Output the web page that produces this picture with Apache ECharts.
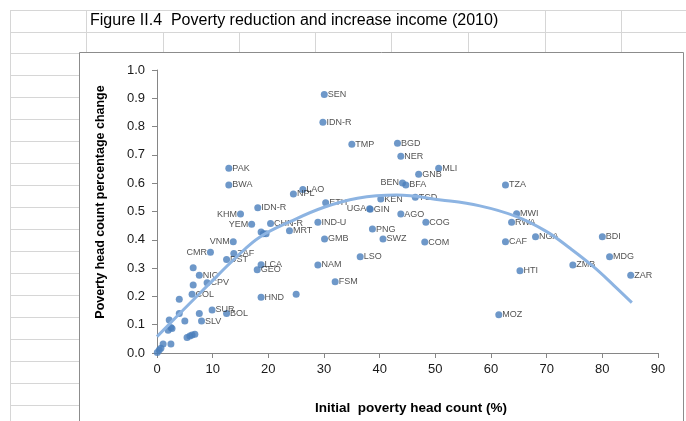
<!DOCTYPE html>
<html><head><meta charset="utf-8">
<script src="https://cdn.jsdelivr.net/npm/echarts/dist/echarts.min.js"></script>
<style>html,body{margin:0;padding:0;background:#fff}#c{width:686px;height:421px}</style>
</head><body><div id="c"></div>
<script>
// ---- data ----
const labNames = ['SEN','IDN-R','TMP','BGD','NER','MLI','GNB','PAK','BWA','TZA',
  'BEN','BFA','LAO','NPL','TCD','KEN','ETH','IDN-R','UGA','GIN',
  'AGO','MWI','KHM','RWA','IND-U','COG','CHN-R','YEM','PNG','MRT',
  'NGA','BDI','GMB','SWZ','CAF','COM','VNM','CMR','ZAF','LSO',
  'MDG','DST','LCA','NAM','ZMB','GEO','HTI','NIC','ZAR','FSM',
  'CPV','COL','HND','SUR','BOL','MOZ','SLV'];
const labX = [30.05,29.8,35.0,43.2,43.8,50.6,47.0,12.9,12.9,62.6,
  44.1,44.7,26.2,24.5,46.4,40.2,30.3,18.1,38.2,38.3,
  43.8,64.6,15.0,63.7,28.9,48.3,20.4,17.0,38.7,23.8,
  68.0,80.0,30.1,40.6,62.6,48.1,13.7,9.6,13.8,36.5,
  81.3,12.5,18.7,28.9,74.7,18.0,65.2,7.6,85.1,32.0,
  9.0,6.3,18.7,9.9,12.5,61.4,8.0];
const labY = [0.913,0.815,0.738,0.741,0.695,0.653,0.632,0.653,0.594,0.594,
  0.601,0.594,0.578,0.562,0.550,0.544,0.531,0.513,0.510,0.508,
  0.491,0.492,0.491,0.462,0.462,0.462,0.458,0.455,0.438,0.432,
  0.411,0.411,0.403,0.403,0.393,0.392,0.393,0.356,0.352,0.340,
  0.340,0.330,0.312,0.311,0.311,0.294,0.291,0.275,0.275,0.252,
  0.248,0.208,0.197,0.152,0.140,0.135,0.113];
// unlabeled points
const unX = [18.7,19.1,19.6,25.0,6.5,6.5,4.0,4.0,7.6,5.0,2.2,2.0,2.5,2.7,5.4,5.9,6.3,6.8,1.1,2.5,0.05,0.4,0.7];
const unY = [0.428,0.421,0.421,0.208,0.301,0.240,0.190,0.140,0.140,0.113,0.117,0.080,0.090,0.087,0.055,0.060,0.064,0.066,0.032,0.032,0.002,0.011,0.017];
// trendline
const trendX = [0,3.5,7.7,10.7,14.3,18.5,24,30,36,43,51,58,64.6,70,74.2,78.4,82,85.3];
const trendY = [0.058,0.128,0.211,0.27,0.34,0.41,0.465,0.515,0.547,0.558,0.541,0.52,0.482,0.429,0.37,0.305,0.24,0.178];
const xTicks = {min:0, max:90, step:10};
const yTicks = {min:0, max:1, step:0.1};
const titleText = 'Figure II.4  Poverty reduction and increase income (2010)';
const xTitle = 'Initial  poverty head count (%)';
const yTitle = 'Poverty head count percentage change';

// ---- label placement (style only) : [side, dx, dy] ----
const labelPlace = [['r',0,0],['r',1,2],['r',3,1],['r',0,0],['r',3,2],['r',-1,-2],['r',0.5,-2],['r',3.5,-1],['r',3,2],['r',2.5,2],
  ['l',8,-5],['r',3,2],['r',0,-1],['r',0,6],['r',3,1],['r',-2.5,-1],['r',1,1],['r',-3.5,-3],['l',12,-4],['r',9.6,0],
  ['r',1,1],['r',-1,0],['l',3,1],['r',0,0],['r',-0.5,0],['r',0,5],['r',0,0],['l',13.5,-2.5],['r',0,-2],['r',-1,1],
  ['r',9,1.5],['r',1,1],['r',3.5,3],['r',0,6],['r',1.5,3],['r',-1,6],['l',9.5,-2.5],['l',0,1],['r',0,0],['r',1,4],
  ['r',1.5,1.5],['r',-3,4],['r',-3,1],['r',-0.5,1],['r',-1,7],['r',1,3.5],['r',1,6.5],['r',1.5,1],['r',1.5,1],['r',4,3],
  ['r',9,2],['r',1,4],['r',-0.5,6],['r',-2.5,-4],['r',0.5,5],['r',1,4],['r',1,4.5]];

const FONT = "'Liberation Sans', Arial, sans-serif";
const DOT = '#4a7ebb';

const scatterData = [];
labNames.forEach((n,i)=>{
  const p = labelPlace[i];
  scatterData.push({name:n, value:[labX[i],labY[i]],
    label:{show:true, position: p[0]==='l'?'left':'right', offset:[p[1],p[2]]}});
});
unX.forEach((x,i)=>scatterData.push({name:'', value:[x,unY[i]], label:{show:false}}));

// spreadsheet background grid
const G = '#d6d6d6';
const gfx = [];
function ln(x1,y1,x2,y2,c,z){gfx.push({type:'line',silent:true,z:z||0,shape:{x1,y1,x2,y2},style:{stroke:c||G,lineWidth:1}});}
ln(10,10.5,686,10.5); ln(10,32.5,686,32.5);
for(let y=53.5;y<421;y+=22) ln(10,y,79,y);
ln(10.5,10,10.5,421);
ln(86.5,10,86.5,52);
[545.5,621.5].forEach(x=>ln(x,10,x,52));
[163.5,239.5,315.5,391.5,468.5].forEach(x=>ln(x,32,x,52));
gfx.push({type:'rect',silent:true,z:0,shape:{x:79.5,y:52.5,width:604,height:400},style:{fill:'none',stroke:'#8c8c8c',lineWidth:1}});
gfx.push({type:'text',silent:true,x:90,y:21,style:{text:titleText,font:"16px "+FONT,fill:'#000',verticalAlign:'middle',align:'left'}});
gfx.push({type:'text',silent:true,x:411,y:408,style:{text:xTitle,font:"bold 13.5px "+FONT,fill:'#000',verticalAlign:'middle',align:'center'}});
gfx.push({type:'text',silent:true,x:101,y:202,rotation:Math.PI/2,style:{text:yTitle,font:"bold 12.5px "+FONT,fill:'#000',verticalAlign:'middle',align:'center'}});

const axisCol = '#868686';
const chart = echarts.init(document.getElementById('c'));
chart.setOption({
  animation:false,
  backgroundColor:'#fff',
  graphic: gfx,
  grid:{left:157,right:28,top:70,bottom:68},
  xAxis:{type:'value',min:xTicks.min,max:xTicks.max,interval:xTicks.step,
    axisLine:{show:true,onZero:false,lineStyle:{color:axisCol}},
    axisTick:{show:true,length:5,lineStyle:{color:axisCol}},
    splitLine:{show:false},
    axisLabel:{color:'#1a1a1a',fontSize:13,fontFamily:FONT,margin:10}},
  yAxis:{type:'value',min:yTicks.min,max:yTicks.max,interval:yTicks.step,
    axisLine:{show:true,onZero:false,lineStyle:{color:axisCol}},
    axisTick:{show:true,length:5,lineStyle:{color:axisCol}},
    splitLine:{show:false},
    axisLabel:{color:'#1a1a1a',fontSize:13,fontFamily:FONT,margin:12,formatter:v=>v.toFixed(1)}},
  series:[
    {type:'scatter',z:2,symbolSize:7,itemStyle:{color:DOT},data:scatterData,
     label:{formatter:'{b}',distance:0,fontSize:9,fontFamily:FONT,color:'#262626'},
     labelLayout:{hideOverlap:false}},
    {type:'line',z:5,smooth:0.4,showSymbol:false,silent:true,
     data:trendX.map((x,i)=>[x,trendY[i]]),
     lineStyle:{color:'#8db4e2',width:3}}
  ]
});
</script></body></html>
